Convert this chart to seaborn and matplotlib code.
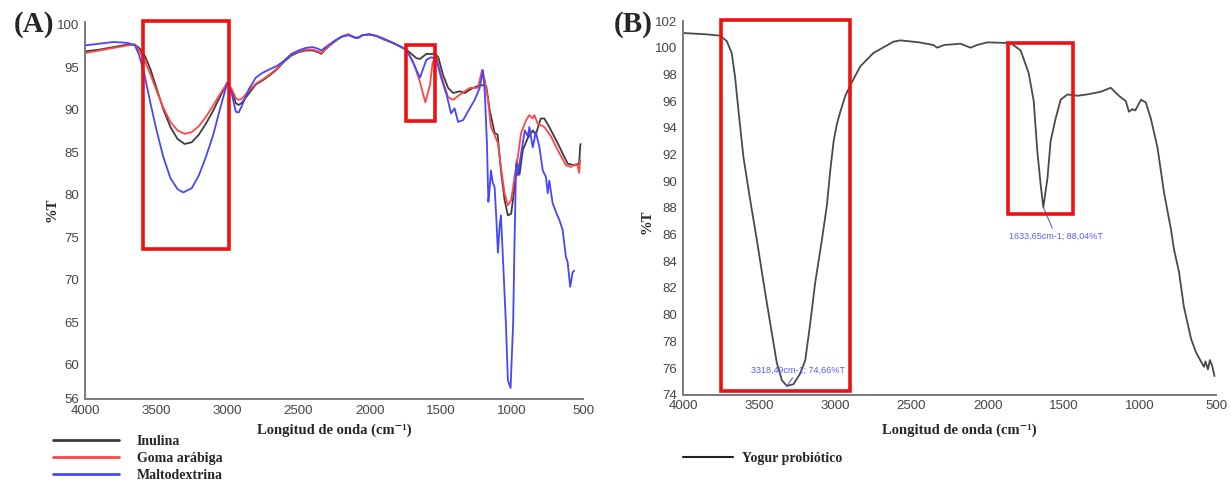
import matplotlib
matplotlib.use("Agg")
import matplotlib.pyplot as plt
import seaborn as sns
import pandas as pd
from matplotlib.patches import Rectangle
from matplotlib.lines import Line2D
from matplotlib import font_manager

# ---------------- data ----------------
# Panel A
wn_inulina = [4000, 3900, 3800, 3700, 3650, 3620, 3580, 3540, 3500, 3450, 3400, 3350, 3300, 3250,
              3200, 3150, 3100, 3050, 3000, 2970, 2940, 2920, 2900, 2850, 2800, 2750, 2700, 2650,
              2600, 2550, 2500, 2450, 2400, 2360, 2340, 2300, 2250, 2200, 2150, 2100, 2080, 2050,
              2000, 1950, 1900, 1850, 1800, 1741, 1671, 1646, 1601, 1538, 1517, 1483, 1448, 1413,
              1366, 1331, 1273, 1226, 1191, 1180, 1156, 1121, 1100, 1077, 1051, 1028, 1005, 981,
              965, 946, 923, 888, 853, 832, 797, 772, 737, 678, 632, 608, 562, 527, 520, 517]
t_inulina = [96.9, 97.1, 97.4, 97.7, 97.7, 97.3, 96.4, 94.8, 92.7, 90.1, 88.0, 86.6, 86.0, 86.2,
             87.1, 88.4, 89.9, 91.6, 93.2, 92.3, 90.8, 90.6, 90.8, 91.9, 93.0, 93.5, 94.1, 94.8,
             95.7, 96.4, 96.8, 97.0, 97.0, 96.8, 96.6, 97.3, 98.0, 98.6, 98.9, 98.5, 98.5, 98.8,
             98.9, 98.7, 98.3, 98.0, 97.6, 97.1, 96.1, 96.0, 96.6, 96.6, 96.2, 94.1, 92.6, 92.0,
             92.2, 92.0, 92.6, 92.9, 92.9, 92.8, 90.0, 87.3, 87.1, 82.9, 79.4, 77.6, 77.8, 80.9,
             84.1, 82.4, 85.3, 86.7, 87.6, 87.1, 89.0, 89.0, 88.0, 86.1, 84.5, 83.7, 83.5, 83.7, 85.7, 86.0]

wn_goma = [4000, 3900, 3800, 3700, 3650, 3620, 3580, 3540, 3500, 3450, 3400, 3350, 3300, 3250,
           3200, 3150, 3100, 3050, 3000, 2970, 2940, 2920, 2900, 2850, 2800, 2750, 2700, 2650,
           2600, 2550, 2500, 2450, 2400, 2360, 2340, 2300, 2250, 2200, 2150, 2100, 2080, 2050,
           2000, 1950, 1900, 1850, 1800, 1741, 1692, 1646, 1608, 1576, 1557, 1531, 1483, 1448,
           1413, 1366, 1296, 1238, 1210, 1190, 1168, 1147, 1120, 1098, 1077, 1051, 1028, 1005,
           981, 958, 935, 900, 877, 853, 842, 818, 772, 725, 678, 620, 585, 560, 538, 527, 520]
t_goma = [96.7, 97.0, 97.3, 97.6, 97.7, 97.0, 95.8, 94.2, 92.4, 90.3, 88.6, 87.6, 87.2, 87.4,
          88.1, 89.2, 90.5, 91.9, 93.2, 92.5, 91.4, 91.2, 91.3, 92.2, 93.1, 93.6, 94.2, 94.9,
          95.8, 96.5, 96.9, 97.1, 97.1, 96.9, 96.7, 97.3, 98.0, 98.6, 98.9, 98.5, 98.5, 98.8,
          98.9, 98.7, 98.3, 98.0, 97.6, 97.1, 95.6, 93.3, 90.9, 92.9, 95.6, 96.2, 93.3, 91.5,
          91.2, 91.8, 92.6, 92.6, 94.7, 93.5, 91.2, 88.0, 87.0, 86.1, 83.3, 80.2, 78.8, 79.4,
          82.1, 84.5, 87.3, 88.8, 89.4, 89.0, 89.4, 88.4, 88.0, 86.9, 85.3, 83.5, 83.3, 83.6, 83.5, 82.6, 84.1]

wn_malto = [4000, 3900, 3800, 3700, 3650, 3620, 3580, 3540, 3500, 3450, 3400, 3350, 3310, 3250,
            3200, 3150, 3100, 3050, 3000, 2970, 2940, 2920, 2900, 2850, 2800, 2750, 2700, 2650,
            2600, 2550, 2500, 2450, 2400, 2360, 2340, 2300, 2250, 2200, 2150, 2100, 2080, 2050,
            2000, 1950, 1900, 1850, 1800, 1741, 1692, 1646, 1601, 1566, 1531, 1497, 1459, 1427,
            1403, 1378, 1343, 1296, 1261, 1226, 1203, 1190, 1175, 1165, 1155, 1147, 1135, 1121,
            1110, 1098, 1085, 1077, 1063, 1042, 1028, 1009, 991, 981, 970, 958, 935, 909, 888,
            877, 853, 832, 807, 783, 760, 748, 737, 713, 703, 690, 667, 643, 620, 608, 590, 573, 562]
t_malto = [97.6, 97.8, 98.0, 97.9, 97.6, 96.5, 94.0, 90.8, 87.8, 84.5, 82.0, 80.7, 80.3, 80.8,
           82.3, 84.5, 87.0, 90.2, 93.2, 92.0, 89.8, 89.7, 90.4, 92.4, 93.8, 94.4, 94.8, 95.2,
           95.8, 96.6, 97.0, 97.3, 97.4, 97.2, 97.0, 97.5, 98.1, 98.6, 98.8, 98.5, 98.5, 98.8,
           98.9, 98.7, 98.4, 98.0, 97.6, 97.1, 95.5, 93.8, 95.9, 96.2, 96.0, 93.8, 91.8, 89.6,
           90.2, 88.6, 88.8, 90.2, 91.2, 92.6, 94.7, 92.0, 86.0, 79.2, 81.0, 82.9, 81.5, 80.9,
           77.5, 73.2, 76.5, 77.6, 72.7, 64.9, 58.2, 57.3, 64.9, 74.7, 83.7, 82.3, 84.9, 87.6, 86.9,
           88.0, 85.6, 87.4, 85.7, 82.9, 82.1, 80.2, 81.7, 79.0, 78.6, 78.0, 77.1, 75.9, 72.7, 72.1, 69.2, 70.9, 71.1]

# Panel B
wn_yogur = [4000, 3844, 3757, 3713, 3680, 3658, 3636, 3603, 3559, 3515, 3471, 3428, 3384, 3351,
            3318, 3274, 3230, 3197, 3164, 3132, 3088, 3055, 3033, 3011, 2989, 2967, 2934, 2901,
            2836, 2750, 2618,
            2572, 2450, 2355, 2331, 2286, 2178, 2112, 2069, 2002, 1849, 1783, 1730, 1697, 1673,
            1651, 1634, 1607, 1586, 1553, 1520, 1476, 1410, 1345, 1257, 1191, 1138, 1092, 1072,
            1050, 1030, 993, 961, 928, 884, 842, 796, 776, 743, 711, 664, 632, 599, 579, 569,
            553, 540, 526, 510]
t_yogur = [101.1, 101.0, 100.9, 100.5, 99.6, 97.8, 95.3, 91.8, 88.6, 85.6, 82.4, 79.4, 76.4, 75.1,
           74.66, 74.8, 75.6, 76.6, 79.4, 82.4, 85.6, 88.2, 90.8, 93.0, 94.3, 95.2, 96.4, 97.2,
           98.6, 99.6, 100.45,
           100.55, 100.4, 100.2, 100.0, 100.2, 100.3, 100.0, 100.2, 100.4, 100.35, 99.8, 98.1, 96.0, 92.2,
           89.7, 88.04, 90.2, 93.0, 94.7, 96.1, 96.5, 96.4, 96.5, 96.7, 97.0, 96.4, 96.0, 95.2,
           95.4, 95.3, 96.1, 95.9, 94.7, 92.5, 89.2, 86.4, 84.9, 83.2, 80.6, 78.2, 77.2, 76.5, 76.1, 76.5,
           75.9, 76.6, 76.2, 75.4]

x_ticks = [4000, 3500, 3000, 2500, 2000, 1500, 1000, 500]
y_ticks_A = [56, 60, 65, 70, 75, 80, 85, 90, 95, 100]
y_ticks_B = [74, 76, 78, 80, 82, 84, 86, 88, 90, 92, 94, 96, 98, 100, 102]
labels_A = ["Inulina", "Goma arábiga", "Maltodextrina"]
label_B = "Yogur probiótico"
xlabel = "Longitud de onda (cm\u207b\u00b9)"
ann_1 = "3318,49cm-1; 74,66%T"
ann_2 = "1633,65cm-1; 88,04%T"

# ---------------- style ----------------
sns.set_style("white")
names = {f.name for f in font_manager.fontManager.ttflist}
tick_family = "Liberation Sans Narrow" if "Liberation Sans Narrow" in names else "Liberation Sans"
plt.rcParams["font.family"] = [tick_family, "DejaVu Sans"]
serif = ["Liberation Serif", "DejaVu Serif"]

W, H = 1231, 482
fig = plt.figure(figsize=(W / 100, H / 100), dpi=100)
axA = fig.add_axes([85 / W, (H - 399) / H, (583 - 85) / W, (399 - 22.45) / H])
axB = fig.add_axes([683 / W, (H - 394.8) / H, (1216 - 683) / W, (394.8 - 21) / H])

cols = {"Inulina": "#3c3c3c", "Goma arábiga": "#ff4646", "Maltodextrina": "#4646ff"}
dfs = [
    pd.DataFrame({"wn": wn_inulina, "T": t_inulina, "s": "Inulina"}),
    pd.DataFrame({"wn": wn_goma, "T": t_goma, "s": "Goma arábiga"}),
    pd.DataFrame({"wn": wn_malto, "T": t_malto, "s": "Maltodextrina"}),
]
for d in dfs:
    sns.lineplot(data=d, x="wn", y="T", ax=axA, color=cols[d["s"][0]], lw=1.3,
                 estimator=None, legend=False)

dfB = pd.DataFrame({"wn": wn_yogur, "T": t_yogur})
sns.lineplot(data=dfB, x="wn", y="T", ax=axB, color="#4a4a4a", lw=1.3, estimator=None, legend=False)

for ax, yt, yl in [(axA, y_ticks_A, (56, 100.3)), (axB, y_ticks_B, (74, 102))]:
    ax.set_xlim(4000, 500)
    ax.set_ylim(*yl)
    ax.set_xticks(x_ticks)
    ax.set_yticks(yt)
    ax.set_xlabel("")
    ax.set_ylabel("")
    for s in ["top", "right"]:
        ax.spines[s].set_visible(False)
    for s in ["left", "bottom"]:
        ax.spines[s].set_color("#7a7a7a")
        ax.spines[s].set_linewidth(1.4)
    ax.tick_params(axis="both", direction="out", length=3, width=1, color="#7a7a7a",
                   labelsize=9.5, labelcolor="#444444", pad=1)
    ax.patch.set_alpha(0)

# red highlight boxes
def box(ax, x0, x1, y0, y1):
    ax.add_patch(Rectangle((x0, y0), x1 - x0, y1 - y0, fill=False, ec="#ee1111", lw=2.6,
                           clip_on=False, zorder=5))

box(axA, 3595, 2986, 73.6, 100.5)
box(axA, 1741, 1538, 88.7, 97.6)
box(axB, 3750, 2901, 74.3, 102.05)
box(axB, 1868, 1441, 87.55, 100.35)

# annotations in B
ann_col = "#5a5aff"
axB.annotate(ann_1, xy=(3318.49, 74.66), xytext=(3243, 75.85), ha="center", va="center",
             fontsize=6.5, color=ann_col,
             arrowprops=dict(arrowstyle="-", color=ann_col, lw=0.8, shrinkA=0, shrinkB=0))
axB.annotate(ann_2, xy=(1633.65, 88.04), xytext=(1553, 85.9), ha="center", va="center",
             fontsize=6.5, color=ann_col,
             arrowprops=dict(arrowstyle="-", color=ann_col, lw=0.8, shrinkA=0, shrinkB=0))

# axis titles
for cx, cy in [(334, 430), (959, 430)]:
    fig.text(cx / W, 1 - cy / H, xlabel, ha="center", va="center", family=serif,
             fontweight="bold", fontsize=10.5)
for cx, cy in [(52, 210), (647, 222)]:
    fig.text(cx / W, 1 - cy / H, "%T", ha="center", va="center", rotation=90,
             family=serif, fontweight="bold", fontsize=10.5)

# panel letters
fig.text(34 / W, 1 - 25 / H, "(A)", ha="center", va="center", family=serif,
         fontweight="bold", fontsize=21)
fig.text(633 / W, 1 - 25 / H, "(B)", ha="center", va="center", family=serif,
         fontweight="bold", fontsize=21)

# legends
legfont = {"family": serif, "weight": "bold", "size": 10}
handlesA = [Line2D([], [], color=cols[n], lw=2) for n in labels_A]
fig.legend(handlesA, labels_A, loc="upper left", bbox_to_anchor=(53 / W, 1 - 435 / H),
           frameon=False, borderpad=0, borderaxespad=0, handlelength=4.75, handletextpad=1.3,
           labelspacing=0.3, prop=legfont)
fig.legend([Line2D([], [], color="#222222", lw=1.5)], [label_B], loc="upper left",
           bbox_to_anchor=(683 / W, 1 - 452 / H), frameon=False, borderpad=0, borderaxespad=0,
           handlelength=3.6, handletextpad=0.65, prop=legfont)

fig.savefig("out.png", dpi=100)
